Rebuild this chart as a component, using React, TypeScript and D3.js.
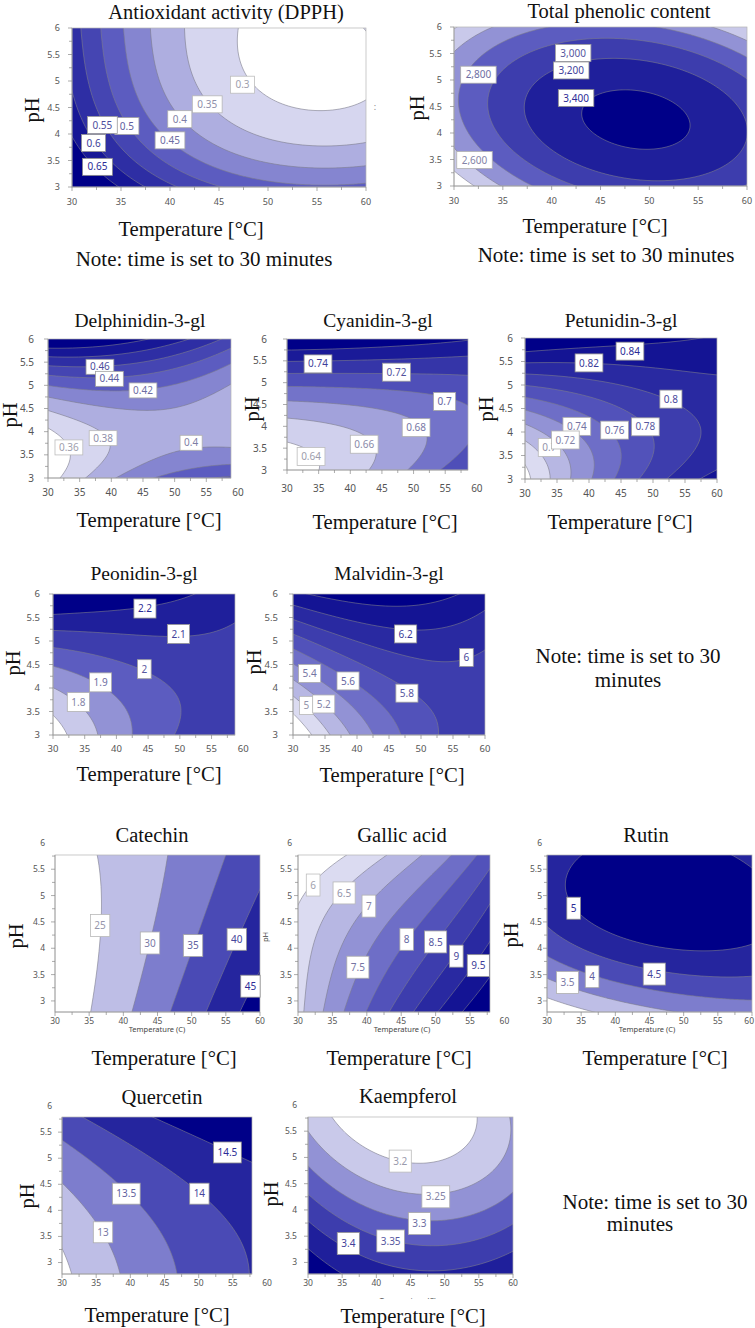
import React from "react";
import * as d3 from "d3";

type P3 = [number, number, number];
type Lab = [string, number, number];

// ---------------- DATA ----------------
// contour levels, contour label positions [text, T, pH], and points [T, pH, value]
const dpphLevels = [0.3, 0.35, 0.4, 0.45, 0.5, 0.55, 0.6, 0.65];
const dpphLabels: Lab[] = [["0.3", 47.4, 4.93], ["0.35", 43.8, 4.56], ["0.4", 41.0, 4.28], ["0.45", 40.0, 3.88], ["0.5", 35.6, 4.15], ["0.55", 33.1, 4.17], ["0.6", 32.2, 3.83], ["0.65", 32.6, 3.38]];
const dpphPoints: P3[] = [
  [47.2, 6, 0.3], [46.5, 5.53, 0.3], [47.8, 5.08, 0.3], [49.9, 4.7, 0.3], [52.6, 4.55, 0.3], [55.3, 4.52, 0.3], [58.4, 4.55, 0.3], [60, 4.64, 0.3],
  [41.5, 6, 0.35], [41.8, 5.5, 0.35], [42.5, 5.0, 0.35], [46.5, 4.15, 0.35], [50, 3.92, 0.35], [55, 3.8, 0.35], [60, 3.82, 0.35],
  [38.1, 6, 0.4], [38.6, 5.3, 0.4], [44, 3.85, 0.4], [48, 3.55, 0.4], [54, 3.38, 0.4], [60, 3.35, 0.4],
  [35.2, 6, 0.45], [36.3, 5.0, 0.45], [43, 3.5, 0.45], [47, 3.22, 0.45], [52, 3.1, 0.45], [60, 3.09, 0.45],
  [32.9, 6, 0.5], [33.8, 5.2, 0.5], [39, 3.6, 0.5], [44.9, 3.0, 0.5],
  [30.8, 6, 0.55], [31.5, 5.0, 0.55], [36, 3.6, 0.55], [40, 3.0, 0.55],
  [30, 4.96, 0.6], [34.5, 3.4, 0.6], [37.5, 3.0, 0.6],
  [30, 3.88, 0.65], [34.9, 3.0, 0.65],
];

const tpcLevels = [2400, 2600, 2800, 3000, 3200, 3400];
const tpcLabels: Lab[] = [["3,000", 42.2, 5.51], ["3,200", 42.0, 5.18], ["3,400", 42.5, 4.66], ["2,800", 32.5, 5.1], ["2,600", 32.1, 3.49]];
const tpcPoints: P3[] = [
  [41, 4.22, 3400], [47.1, 4.85, 3400], [56.3, 4.12, 3400], [49.2, 3.68, 3400],
  [36.9, 4.12, 3200], [47.1, 5.57, 3200], [47.1, 3.18, 3200],
  [33.7, 4.44, 3000], [45.8, 5.86, 3000], [45.8, 3.01, 3000],
  [30.9, 4.12, 2800],
  [30, 3.87, 2600], [33.1, 3.0, 2600], [33.8, 6.0, 2600], [30, 5.7, 2600], [56, 6.0, 2600], [60, 5.7, 2600],
];

const delLevels = [0.36, 0.38, 0.4, 0.42, 0.44, 0.46, 0.48, 0.5];
const delLabels: Lab[] = [["0.46", 38.2, 5.4], ["0.44", 39.7, 5.14], ["0.42", 45.0, 4.89], ["0.38", 38.7, 3.86], ["0.36", 33.3, 3.66], ["0.4", 52.6, 3.76]];
const delPoints: P3[] = [
  [30, 4.14, 0.36], [33.5, 3.4, 0.36], [32.1, 3.0, 0.36],
  [30, 4.5, 0.38], [35, 4.3, 0.38], [38, 3.5, 0.38], [35.6, 3.0, 0.38],
  [30, 4.78, 0.4], [36, 4.62, 0.4], [42, 4.5, 0.4], [46, 4.47, 0.4], [50, 4.55, 0.4], [55, 4.8, 0.4], [58.9, 5.1, 0.4],
  [39.9, 3.0, 0.4], [45, 3.3, 0.4], [50, 3.6, 0.4], [58.9, 3.72, 0.4],
  [30, 5.0, 0.42], [38, 4.95, 0.42], [50, 5.0, 0.42], [55, 5.3, 0.42], [58.9, 5.5, 0.42],
  [50, 3.0, 0.42], [55, 3.25, 0.42], [58.9, 3.3, 0.42],
  [30, 5.15, 0.44], [50, 5.35, 0.44], [58.9, 5.75, 0.44], [56, 3.0, 0.44], [58.9, 3.05, 0.44],
  [30, 5.35, 0.46], [50, 5.6, 0.46], [55, 5.9, 0.46],
  [30, 5.6, 0.48], [40, 5.65, 0.48], [50, 5.85, 0.48],
  [30, 5.85, 0.5], [40, 5.92, 0.5],
];

const cyaLevels = [0.64, 0.66, 0.68, 0.7, 0.72, 0.74, 0.76];
const cyaLabels: Lab[] = [["0.74", 34.9, 5.43], ["0.72", 47.3, 5.24], ["0.7", 54.9, 4.57], ["0.68", 50.4, 3.97], ["0.66", 42.2, 3.59], ["0.64", 33.8, 3.31]];
const cyaPoints: P3[] = [
  [30, 3.6, 0.64], [34, 3.45, 0.64], [35, 3.0, 0.64],
  [30, 4.34, 0.66], [39, 4.2, 0.66], [43.3, 3.2, 0.66], [42.6, 3.0, 0.66],
  [30, 4.57, 0.68], [44, 4.5, 0.68], [51.7, 3.5, 0.68], [49.4, 3.0, 0.68],
  [30, 4.87, 0.7], [44.4, 4.8, 0.7], [58.6, 4.2, 0.7], [58.6, 3.6, 0.7], [54.8, 3.0, 0.7],
  [30, 5.14, 0.72], [58.6, 5.35, 0.72],
  [30, 5.45, 0.74], [58.6, 5.65, 0.74],
  [30, 5.83, 0.76], [58.6, 5.87, 0.76],
];

const petLevels = [0.68, 0.7, 0.72, 0.74, 0.76, 0.78, 0.8, 0.82, 0.84];
const petLabels: Lab[] = [["0.84", 46.4, 5.72], ["0.82", 40.0, 5.47], ["0.8", 52.8, 4.7], ["0.78", 48.8, 4.11], ["0.76", 44.0, 4.04], ["0.74", 38.1, 4.12], ["0.7", 33.8, 3.67], ["0.72", 36.3, 3.83]];
const petPoints: P3[] = [
  [30, 3.26, 0.68], [32.1, 3.0, 0.68],
  [30, 3.76, 0.7], [32.5, 3.5, 0.7], [33.7, 3.0, 0.7],
  [30, 4.15, 0.72], [34.5, 3.9, 0.72], [36, 3.5, 0.72], [36.4, 3.0, 0.72],
  [30, 4.44, 0.74], [35, 4.3, 0.74], [39, 3.6, 0.74], [39.3, 3.0, 0.74],
  [30, 4.69, 0.76], [37, 4.55, 0.76], [43, 3.7, 0.76], [42.8, 3.0, 0.76],
  [30, 4.93, 0.78], [40, 4.75, 0.78], [46, 4.5, 0.78], [49.5, 3.5, 0.78], [49, 3.0, 0.78],
  [30, 5.18, 0.8], [40, 5.05, 0.8], [55.5, 4.3, 0.8], [56, 3.7, 0.8], [54.5, 3.0, 0.8],
  [30, 5.47, 0.82], [50, 5.45, 0.82], [60, 5.55, 0.82], [57.5, 3.0, 0.82], [60, 3.4, 0.82],
  [30, 5.79, 0.84], [60, 5.85, 0.84],
];

const peoLevels = [1.7, 1.8, 1.9, 2.0, 2.1, 2.2];
const peoLabels: Lab[] = [["2.2", 44.5, 5.69], ["2.1", 49.8, 5.15], ["2", 44.4, 4.4], ["1.9", 37.5, 4.12], ["1.8", 34.0, 3.7]];
const peoPoints: P3[] = [
  [30, 3.57, 1.7], [32.4, 3.0, 1.7],
  [30, 4.03, 1.8], [35.8, 3.3, 1.8], [36.5, 3.0, 1.8],
  [30, 4.39, 1.9], [40.5, 3.8, 1.9], [41.8, 3.3, 1.9], [41.8, 3.0, 1.9],
  [30, 4.81, 2.0], [37.4, 4.7, 2.0], [49, 4.05, 2.0], [50.6, 3.6, 2.0], [49.5, 3.0, 2.0],
  [30, 5.17, 2.1], [40, 5.15, 2.1], [55, 5.35, 2.1], [58.7, 5.7, 2.1],
  [30, 5.62, 2.2], [38, 5.68, 2.2], [50, 5.8, 2.2], [55, 6.0, 2.2],
  // estimated interior values of the flat 2.0–2.1 area at the right
  [55, 3.0, 2.05], [58.7, 3.5, 2.06], [58.7, 4.5, 2.07], [54, 4.5, 2.06],
];

const malLevels = [4.8, 5.0, 5.2, 5.4, 5.6, 5.8, 6.0, 6.2, 6.4];
const malLabels: Lab[] = [["6.2", 47.6, 5.15], ["6", 57.1, 4.65], ["5.4", 32.6, 4.31], ["5.6", 38.6, 4.15], ["5.8", 47.8, 3.89], ["5", 32.1, 3.63], ["5.2", 34.8, 3.66]];
const malPoints: P3[] = [
  [30, 3.46, 4.8], [32.7, 3.0, 4.8],
  [30, 3.85, 5.0], [35.6, 3.0, 5.0],
  [30, 4.21, 5.2], [39, 3.0, 5.2],
  [30, 4.53, 5.4], [38, 3.8, 5.4], [42.6, 3.0, 5.4],
  [30, 4.85, 5.6], [44, 3.6, 5.6], [47, 3.0, 5.6],
  [30, 5.1, 5.8], [40, 4.5, 5.8], [52, 3.5, 5.8], [53.3, 3.0, 5.8],
  [30, 5.38, 6.0], [40, 5.0, 6.0], [50, 4.75, 6.0], [60, 4.95, 6.0],
  [30, 5.81, 6.2], [40, 5.5, 6.2], [55, 5.3, 6.2], [60, 5.7, 6.2],
  [45, 5.75, 6.4], [55, 5.85, 6.4],
  // estimated interior values of the 5.8–6.0 area at the lower right
  [58, 3.0, 5.9], [60, 3.8, 5.93], [56, 4.2, 5.92],
];

const catLevels = [25, 30, 35, 40, 45];
const catLabels: Lab[] = [["25", 36.6, 4.43], ["30", 43.9, 4.1], ["35", 50.2, 4.05], ["40", 56.6, 4.17], ["45", 58.6, 3.28]];
const catPoints: P3[] = [
  [36.3, 5.77, 25], [36.2, 3.5, 25], [35, 2.79, 25],
  [46.6, 5.77, 30], [41.4, 2.79, 30],
  [54.6, 5.77, 35], [46.9, 2.79, 35],
  [60, 5.0, 40], [52.2, 2.79, 40],
  [57.1, 2.79, 45],
];

const galLevels = [6, 6.5, 7, 7.5, 8, 8.5, 9, 9.5, 10];
const galLabels: Lab[] = [["6", 32.2, 5.2], ["6.5", 36.7, 5.05], ["7", 40.3, 4.8], ["7.5", 38.7, 3.64], ["8", 45.8, 4.17], ["8.5", 50.0, 4.12], ["9", 53.0, 3.85], ["9.5", 56.2, 3.67]];
const galPoints: P3[] = [
  [36.8, 5.77, 6], [30, 4.85, 6],
  [42.6, 5.77, 6.5], [32, 4.0, 6.5], [30.8, 2.79, 6.5],
  [48, 5.77, 7], [35, 3.6, 7], [33.6, 2.79, 7],
  [52.3, 5.77, 7.5], [37, 2.79, 7.5],
  [56.2, 5.77, 8], [40, 2.79, 8],
  [57.9, 5.49, 8.5], [43.3, 2.79, 8.5],
  [57.9, 4.92, 9], [46.5, 2.79, 9],
  [57.9, 4.22, 9.5], [50.1, 2.79, 9.5],
  [57.9, 3.46, 10], [53.8, 2.79, 10],
];

const rutLevels = [3, 3.5, 4, 4.5, 5];
const rutLabels: Lab[] = [["5", 33.9, 4.76], ["4", 36.6, 3.46], ["4.5", 45.7, 3.51], ["3.5", 33.0, 3.35]];
const rutPoints: P3[] = [
  [33.2, 5.6, 5], [32.9, 5.1, 5], [37, 4.4, 5], [45, 4.1, 5], [52, 4.0, 5], [57, 4.05, 5], [60, 4.1, 5], [36, 5.77, 5], [57.5, 5.77, 5], [60, 5.5, 5],
  [30, 4.35, 4.5], [37, 3.85, 4.5], [52, 3.45, 4.5], [60, 3.39, 4.5],
  [30, 3.87, 4], [45, 3.2, 4], [60, 3.05, 4],
  [30, 3.52, 3.5], [42, 3.0, 3.5], [49.8, 2.79, 3.5],
  [30, 2.98, 3], [37, 2.79, 3],
];

const queLevels = [12.5, 13, 13.5, 14, 14.5];
const queLabels: Lab[] = [["14.5", 54.2, 5.11], ["13.5", 39.4, 4.32], ["14", 50.1, 4.32], ["13", 36.0, 3.58]];
const quePoints: P3[] = [
  [30, 3.3, 12.5], [31.4, 2.78, 12.5],
  [30, 4.51, 13], [33, 4.1, 13], [38, 3.1, 13], [38.4, 2.78, 13],
  [30, 5.34, 13.5], [35.5, 4.85, 13.5], [43.3, 3.7, 13.5], [46.7, 2.78, 13.5],
  [32.8, 5.79, 14], [42.8, 5.15, 14], [55, 3.6, 14], [57.8, 2.9, 14],
  [42.8, 5.79, 14.5], [57.8, 4.93, 14.5],
];

const kaeLevels = [3.2, 3.25, 3.3, 3.35, 3.4, 3.45];
const kaeLabels: Lab[] = [["3.2", 43.5, 4.93], ["3.25", 48.7, 4.25], ["3.3", 46.3, 3.74], ["3.35", 42.1, 3.41], ["3.4", 35.9, 3.36]];
const kaePoints: P3[] = [
  [34.1, 5.77, 3.2], [36.8, 5.28, 3.2], [45.9, 4.9, 3.2], [51, 5.15, 3.2], [54.9, 5.77, 3.2],
  [30, 5.44, 3.25], [35.4, 4.77, 3.25], [42.7, 4.32, 3.25], [54.9, 4.64, 3.25], [60, 5.6, 3.25],
  [30, 4.83, 3.3], [35.4, 4.26, 3.3], [52.4, 3.81, 3.3], [60, 4.39, 3.3],
  [30, 4.32, 3.35], [47.6, 3.31, 3.35], [60, 3.72, 3.35],
  [30, 3.88, 3.4], [42.7, 2.99, 3.4], [50, 2.86, 3.4], [60, 3.21, 3.4],
  [30, 3.18, 3.45], [34.4, 2.78, 3.45],
];

const xTickValues = [30, 35, 40, 45, 50, 55, 60];
const yTickValues = [3, 3.5, 4, 4.5, 5, 5.5, 6];

// ---------------- LAYOUT ----------------
interface Panel {
  id: string; x0: number; x1: number; y0: number; y1: number;
  tDom: [number, number]; pDom: [number, number];
  levels: number[]; labels: Lab[]; points: P3[]; deg: number;
  tickFs: number; xLabDy: number; yLabDx: number; labFs: number; boxH: number; boxPad: number;
}

const panels: Panel[] = [
  { id: "dpph", x0: 72, x1: 366, y0: 28, y1: 187, tDom: [30, 60], pDom: [3, 6], levels: dpphLevels, labels: dpphLabels, points: dpphPoints, deg: 3, tickFs: 9, xLabDy: 18, yLabDx: -12, labFs: 10, boxH: 17, boxPad: 4 },
  { id: "tpc", x0: 454, x1: 747, y0: 27, y1: 186, tDom: [30, 60], pDom: [3, 6], levels: tpcLevels, labels: tpcLabels, points: tpcPoints, deg: 2, tickFs: 9, xLabDy: 18, yLabDx: -12, labFs: 10, boxH: 17, boxPad: 4 },
  { id: "del", x0: 48, x1: 231, y0: 339, y1: 478, tDom: [30, 58.9], pDom: [3, 6], levels: delLevels, labels: delLabels, points: delPoints, deg: 3, tickFs: 10, xLabDy: 18, yLabDx: -14, labFs: 10, boxH: 15, boxPad: 3 },
  { id: "cya", x0: 287, x1: 468, y0: 339, y1: 470, tDom: [30, 58.6], pDom: [3, 6], levels: cyaLevels, labels: cyaLabels, points: cyaPoints, deg: 3, tickFs: 10, xLabDy: 22, yLabDx: -20, labFs: 10, boxH: 18, boxPad: 3 },
  { id: "pet", x0: 525, x1: 717, y0: 338, y1: 479, tDom: [30, 60], pDom: [3, 6], levels: petLevels, labels: petLabels, points: petPoints, deg: 3, tickFs: 10, xLabDy: 18, yLabDx: -12, labFs: 10, boxH: 18, boxPad: 3 },
  { id: "peo", x0: 53, x1: 235, y0: 594, y1: 735, tDom: [30, 58.7], pDom: [3, 6], levels: peoLevels, labels: peoLabels, points: peoPoints, deg: 3, tickFs: 9.5, xLabDy: 17, yLabDx: -13, labFs: 10, boxH: 19, boxPad: 3 },
  { id: "mal", x0: 293, x1: 485, y0: 594, y1: 735, tDom: [30, 60], pDom: [3, 6], levels: malLevels, labels: malLabels, points: malPoints, deg: 3, tickFs: 9.5, xLabDy: 17, yLabDx: -15, labFs: 10, boxH: 18, boxPad: 3 },
  { id: "cat", x0: 55, x1: 260, y0: 855, y1: 1012, tDom: [30, 60], pDom: [2.79, 5.77], levels: catLevels, labels: catLabels, points: catPoints, deg: 2, tickFs: 8.5, xLabDy: 12, yLabDx: -10, labFs: 10, boxH: 22, boxPad: 3 },
  { id: "gal", x0: 298, x1: 490, y0: 855, y1: 1012, tDom: [30, 57.9], pDom: [2.79, 5.77], levels: galLevels, labels: galLabels, points: galPoints, deg: 3, tickFs: 8.5, xLabDy: 12, yLabDx: -6, labFs: 10, boxH: 22, boxPad: 3 },
  { id: "rut", x0: 547, x1: 752, y0: 855, y1: 1012, tDom: [30, 60], pDom: [2.79, 5.77], levels: rutLevels, labels: rutLabels, points: rutPoints, deg: 3, tickFs: 8.5, xLabDy: 12, yLabDx: -5, labFs: 10, boxH: 22, boxPad: 3 },
  { id: "que", x0: 62, x1: 252, y0: 1117, y1: 1274, tDom: [30, 57.8], pDom: [2.78, 5.79], levels: queLevels, labels: queLabels, points: quePoints, deg: 2, tickFs: 8.5, xLabDy: 12, yLabDx: -10, labFs: 10, boxH: 21, boxPad: 3 },
  { id: "kae", x0: 308, x1: 513, y0: 1117, y1: 1274, tDom: [30, 60], pDom: [2.78, 5.77], levels: kaeLevels, labels: kaeLabels, points: kaePoints, deg: 3, tickFs: 8.5, xLabDy: 12, yLabDx: -11, labFs: 10, boxH: 22, boxPad: 3 },
];

interface Txt { t: string; x: number; y: number; fs: number; rot?: boolean; sans?: boolean; fill?: string; clipY?: number }
const SERIF = "'Liberation Serif', 'Times New Roman', serif";
const SANS = "'Noto Sans', 'Open Sans', sans-serif";

const texts: Txt[] = [
  { t: "Antioxidant activity (DPPH)", x: 226, y: 19, fs: 20.5 },
  { t: "Total phenolic content", x: 619, y: 18, fs: 20.5 },
  { t: "Temperature [°C]", x: 191, y: 236, fs: 20.7 },
  { t: "Temperature [°C]", x: 595, y: 233, fs: 20.7 },
  { t: "Note: time is set to 30 minutes", x: 204, y: 266, fs: 21 },
  { t: "Note: time is set to 30 minutes", x: 606, y: 262, fs: 21 },
  { t: "pH", x: 32, y: 110, fs: 20.5, rot: true },
  { t: "pH", x: 417, y: 108, fs: 20.5, rot: true },
  { t: ":", x: 375, y: 110, fs: 9, sans: true, fill: "#888" },

  { t: "Delphinidin-3-gl", x: 140, y: 327, fs: 19.5 },
  { t: "Cyanidin-3-gl", x: 378, y: 327, fs: 19.5 },
  { t: "Petunidin-3-gl", x: 621, y: 327, fs: 19.5 },
  { t: "pH", x: 10, y: 415, fs: 20.5, rot: true },
  { t: "pH", x: 252, y: 409, fs: 20.5, rot: true },
  { t: "pH", x: 486, y: 409, fs: 20.5, rot: true },
  { t: "Temperature [°C]", x: 149, y: 527, fs: 20.7 },
  { t: "Temperature [°C]", x: 385, y: 529, fs: 20.7 },
  { t: "Temperature [°C]", x: 620, y: 529, fs: 20.7 },

  { t: "Peonidin-3-gl", x: 144, y: 580, fs: 19.5 },
  { t: "Malvidin-3-gl", x: 389, y: 580, fs: 19.5 },
  { t: "pH", x: 13, y: 663, fs: 20.5, rot: true },
  { t: "pH", x: 254, y: 662, fs: 20.5, rot: true },
  { t: "Temperature [°C]", x: 149, y: 781, fs: 20.7 },
  { t: "Temperature [°C]", x: 392, y: 782, fs: 20.7 },
  { t: "Note: time is set to 30", x: 628, y: 663, fs: 21 },
  { t: "minutes", x: 628, y: 687, fs: 21 },

  { t: "Catechin", x: 152, y: 842, fs: 20.5 },
  { t: "Gallic acid", x: 402, y: 842, fs: 20.5 },
  { t: "Rutin", x: 646, y: 842, fs: 20.5 },
  { t: "pH", x: 16, y: 936, fs: 20.5, rot: true },
  { t: "pH", x: 511, y: 935, fs: 20.5, rot: true },
  { t: "pH", x: 265, y: 937, fs: 7.5, rot: true, sans: true, fill: "#444" },
  { t: "Temperature (C)", x: 157, y: 1032, fs: 7.5, sans: true, fill: "#444" },
  { t: "Temperature (C)", x: 402, y: 1032, fs: 7.5, sans: true, fill: "#444" },
  { t: "Temperature (C)", x: 647, y: 1032, fs: 7.5, sans: true, fill: "#444" },
  { t: "Temperature [°C]", x: 164, y: 1065, fs: 20.7 },
  { t: "Temperature [°C]", x: 399, y: 1065, fs: 20.7 },
  { t: "Temperature [°C]", x: 655, y: 1065, fs: 20.7 },

  { t: "Quercetin", x: 162, y: 1104, fs: 20.5 },
  { t: "Kaempferol", x: 408, y: 1103, fs: 20.5 },
  { t: "pH", x: 27, y: 1196, fs: 20.5, rot: true },
  { t: "pH", x: 271, y: 1194, fs: 20.5, rot: true },
  { t: "Temperature (C)", x: 408, y: 1303, fs: 7.5, sans: true, fill: "#444", clipY: 1299 },
  { t: "Temperature [°C]", x: 157, y: 1322, fs: 20.7 },
  { t: "Temperature [°C]", x: 413, y: 1323, fs: 20.7 },
  { t: "Note: time is set to 30", x: 655, y: 1209, fs: 21 },
  { t: "minutes", x: 640, y: 1231, fs: 21 },
];

// ---------------- HELPERS ----------------
const shade = d3.scaleLinear<string>().domain([0, 0.5, 1]).range(["#ffffff", "#5c5cc0", "#000088"]).interpolate(d3.interpolateRgb);
const labelInk = d3.interpolateRgb("#b0b0b0", "#2c2c96");
const labelEdge = d3.interpolateRgb("#c4c4c4", "#8c8c8c");

function basis(x: number, y: number, deg: number) {
  const b = [1, x, y];
  if (deg >= 2) b.push(x * x, x * y, y * y);
  if (deg >= 3) b.push(x * x * x, x * x * y, x * y * y, y * y * y);
  return b;
}
function solve(A: number[][], b: number[]) {
  const n = b.length;
  const M = A.map((r, i) => [...r, b[i]]);
  for (let c = 0; c < n; c++) {
    let p = c;
    for (let r = c + 1; r < n; r++) if (Math.abs(M[r][c]) > Math.abs(M[p][c])) p = r;
    const tmp = M[c]; M[c] = M[p]; M[p] = tmp;
    const d = M[c][c] || 1e-12;
    for (let r = 0; r < n; r++) if (r !== c) {
      const f = M[r][c] / d;
      for (let k = c; k <= n; k++) M[r][k] -= f * M[c][k];
    }
  }
  return M.map((r, i) => r[n] / r[i]);
}
function fitSurface(points: P3[], deg: number) {
  const rows = points.map(([T, p]) => basis((T - 45) / 15, (p - 4.5) / 1.5, deg));
  const n = rows[0].length;
  const A = Array.from({ length: n }, () => new Array(n).fill(0));
  const b = new Array(n).fill(0);
  rows.forEach((r, k) => {
    const z = points[k][2];
    for (let i = 0; i < n; i++) {
      b[i] += r[i] * z;
      for (let j = 0; j < n; j++) A[i][j] += r[i] * r[j];
    }
  });
  for (let i = 0; i < n; i++) A[i][i] += 1e-7;
  const c = solve(A, b);
  return (T: number, p: number) => {
    const r = basis((T - 45) / 15, (p - 4.5) / 1.5, deg);
    let s = 0;
    for (let i = 0; i < n; i++) s += r[i] * c[i];
    return s;
  };
}
const textW = (s: string, fs: number) => {
  let w = 0;
  for (const ch of s) w += ch === "." || ch === "," ? 0.27 : 0.57;
  return w * fs;
};

function ContourPanel({ c }: { c: Panel }) {
  const xs = d3.scaleLinear().domain(c.tDom).range([c.x0, c.x1]);
  const ys = d3.scaleLinear().domain(c.pDom).range([c.y1, c.y0]);
  const fitPts: P3[] = [...c.points, ...c.labels.map(([s, T, p]) => [T, p, parseFloat(s.replace(",", ""))] as P3)];
  const f = fitSurface(fitPts, c.deg);
  const pad = 3;
  const W = Math.round(c.x1 - c.x0) + 2 * pad;
  const H = Math.round(c.y1 - c.y0) + 2 * pad;
  const ox = c.x0 - pad, oy = c.y0 - pad;
  const vals: number[] = new Array(W * H);
  for (let j = 0; j < H; j++) {
    const p = ys.invert(oy + j);
    for (let i = 0; i < W; i++) vals[i + j * W] = f(xs.invert(ox + i), p);
  }
  const cs = d3.contours().size([W, H]).thresholds(c.levels)(vals);
  const gp = d3.geoPath(d3.geoTransform({
    point: function (x: number, y: number) { (this as any).stream.point(ox + x - 0.5, oy + y - 0.5); },
  }));
  const nb = c.levels.length + 1;
  const col = (k: number) => shade(k / (nb - 1));
  const clip = `clip-${c.id}`;
  const xMarks = d3.range(30, Math.min(60, c.tDom[1]) + 0.001, 2.5);
  const yMarks = d3.range(Math.ceil(c.pDom[0] * 4 - 1e-6) / 4, c.pDom[1] + 0.001, 0.25);
  return (
    <g>
      <defs>
        <clipPath id={clip}><rect x={c.x0} y={c.y0} width={c.x1 - c.x0} height={c.y1 - c.y0} /></clipPath>
      </defs>
      <g clipPath={`url(#${clip})`}>
        <rect x={c.x0} y={c.y0} width={c.x1 - c.x0} height={c.y1 - c.y0} fill={col(0)} />
        {cs.map((g, k) => <path key={"f" + k} d={gp(g as any) || ""} fill={col(k + 1)} stroke="none" />)}
        {cs.map((g, k) => <path key={"l" + k} d={gp(g as any) || ""} fill="none" stroke="#7c7c8c" strokeWidth={0.6} />)}
      </g>
      <rect x={c.x0} y={c.y0} width={c.x1 - c.x0} height={c.y1 - c.y0} fill="none" stroke="#b4b4b4" strokeWidth={0.7} />
      <line x1={c.x0} x2={c.x0} y1={c.y0} y2={c.y1} stroke="#999" strokeWidth={0.8} />
      <line x1={c.x0} x2={c.x1} y1={c.y1} y2={c.y1} stroke="#999" strokeWidth={0.8} />
      {xMarks.map((t) => (
        <line key={"xm" + t} x1={xs(t)} x2={xs(t)} y1={c.y1} y2={c.y1 + (t % 5 === 0 ? 4 : 3)} stroke="#888" strokeWidth={0.7} />
      ))}
      {yMarks.map((p) => (
        <line key={"ym" + p} x1={c.x0} x2={c.x0 - (Math.abs(p * 2 - Math.round(p * 2)) < 1e-6 ? 4 : 3)} y1={ys(p)} y2={ys(p)} stroke="#888" strokeWidth={0.7} />
      ))}
      {xTickValues.map((t) => {
        const hw = textW(String(t), c.tickFs) / 2;
        const x = Math.min(xs(t), 754 - hw);
        return <text key={"xt" + t} x={x} y={c.y1 + c.xLabDy} fontSize={c.tickFs} fontFamily={SANS} fill="#555" textAnchor="middle">{t}</text>;
      })}
      {yTickValues.map((p) => (
        <text key={"yt" + p} x={c.x0 + c.yLabDx} y={ys(p) + c.tickFs * 0.35} fontSize={c.tickFs} fontFamily={SANS} fill="#555" textAnchor="end">{p}</text>
      ))}
      {c.labels.map(([s, T, p], i) => {
        const lv = parseFloat(s.replace(",", ""));
        const k = c.levels.indexOf(lv);
        const fr = (k + 1) / (nb - 1);
        const w = textW(s, c.labFs) + 2 * c.boxPad + 2;
        const cx = xs(T), cy = ys(p);
        return (
          <g key={"lab" + i}>
            <rect x={cx - w / 2} y={cy - c.boxH / 2} width={w} height={c.boxH} fill="#fff" stroke={labelEdge(fr)} strokeWidth={0.8} />
            <text x={cx} y={cy + c.labFs * 0.36} fontSize={c.labFs} fontFamily={SANS} fill={labelInk(fr)} textAnchor="middle">{s}</text>
          </g>
        );
      })}
    </g>
  );
}

export default function App() {
  return (
    <div>
      <style>{`body{margin:0;background:#fff}`}</style>
      <svg width={755} height={1328} viewBox="0 0 755 1328" style={{ display: "block", background: "#fff" }}>
        <defs>
          <clipPath id="clip-small-kae"><rect x={300} y={1280} width={220} height={19} /></clipPath>
        </defs>
        {panels.map((p) => <ContourPanel key={p.id} c={p} />)}
        {texts.map((t, i) => {
          const ff = t.sans ? SANS : SERIF;
          const fill = t.fill || "#111";
          if (t.rot) {
            return (
              <text key={"t" + i} transform={`translate(${t.x},${t.y}) rotate(-90)`} fontSize={t.fs} fontFamily={ff} fill={fill} textAnchor="middle" dominantBaseline="central">{t.t}</text>
            );
          }
          return (
            <text key={"t" + i} x={t.x} y={t.y} fontSize={t.fs} fontFamily={ff} fill={fill} textAnchor="middle" clipPath={t.clipY ? "url(#clip-small-kae)" : undefined}>{t.t}</text>
          );
        })}
      </svg>
    </div>
  );
}
